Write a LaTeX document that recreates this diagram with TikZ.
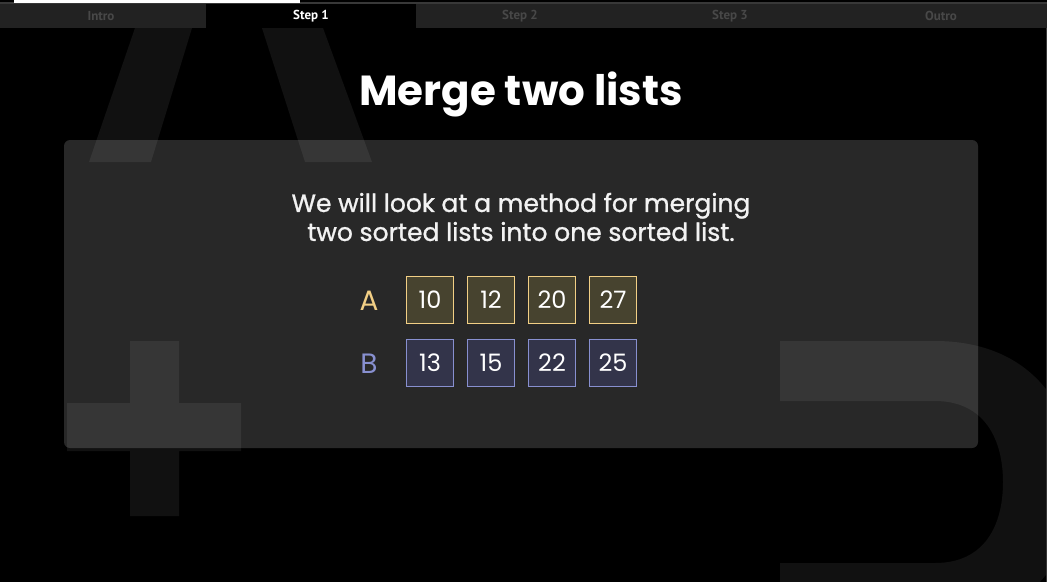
\documentclass[tikz,border=0pt]{standalone}
\usepackage{fontspec}
\setmainfont{Poppins}
\newfontfamily\medfont[FakeBold=1]{Poppins}
\newfontfamily\tabfont{PT Sans}
\definecolor{panel}{HTML}{282828}
\definecolor{tabbg}{HTML}{222222}
\definecolor{tabtxt}{HTML}{484848}
\definecolor{ayel}{HTML}{F2CF85}
\definecolor{afill}{HTML}{47432F}
\definecolor{bblue}{HTML}{8890D0}
\definecolor{bfill}{HTML}{33344A}
\tikzset{
  deco/.style={fill=white, fill opacity=0.065},
  tablbl/.style={font=\tabfont\bfseries\fontsize{13}{15}\selectfont, text=tabtxt},
  abox/.style={draw=ayel, fill=afill, line width=1.5pt, minimum width=47pt, minimum height=47pt, inner sep=0pt, text=white, font=\fontsize{24}{28}\selectfont},
  bbox/.style={abox, draw=bblue, fill=bfill},
}
\begin{document}
\begin{tikzpicture}[x=1pt,y=-1pt]
\useasboundingbox (0,0) rectangle (1047,582);
\clip (0,0) rectangle (1047,582);
\fill[black] (0,0) rectangle (1047,582);
% panel
\fill[panel, rounded corners=6pt] (64,140) rectangle (978,448);
% decorative background glyphs
\fill[deco] (135,28) -- (192,28) -- (151,162) -- (89,162) -- cycle;
\fill[deco] (262,28) -- (323,28) -- (372,162) -- (305,162) -- cycle;
\fill[deco] (130,341) rectangle (179,516) (67,403) rectangle (241,451);
\fill[deco] (780,341) -- (935,341) .. controls (1025,341) and (1075,400) .. (1075,482)
  .. controls (1075,565) and (1025,622) .. (935,622) -- (780,622) -- (780,563) -- (935,563)
  .. controls (985,563) and (1003,525) .. (1003,482) .. controls (1003,440) and (985,401) .. (935,401)
  -- (780,401) -- cycle;
% top bar
\fill[tabbg] (0,4) rectangle (1047,28);
\fill[black] (206,4) rectangle (416,28);
\fill[black!78] (0,2) rectangle (1047,4);
\fill[white] (14,0) rectangle (300,2.5);
\fill[black!78] (1046,28) rectangle (1047,582);
\node[tablbl] (t0) at (101,16) {Intro};
\node[tablbl, text=white] (t1) at (311,16) {Step 1};
\node[tablbl] (t2) at (520,16) {Step 2};
\node[tablbl] (t3) at (730,16) {Step 3};
\node[tablbl] (t4) at (941,16) {Outro};
% title
\node[text=white, font=\bfseries\fontsize{42}{48}\selectfont] (title) at (521,94) {Merge two lists};
\node[text=white!95!black, align=center, font=\medfont\fontsize{25}{29}\selectfont] (sub) at (521,217)
  {We will look at a method for merging\\two sorted lists into one sorted list.};
% lists
\node[text=ayel, font=\fontsize{28}{32}\selectfont] (la) at (369,301) {A};
\node[text=bblue, font=\fontsize{28}{32}\selectfont] (lb) at (369,364) {B};
\node[abox] (a1) at (430,300) {10};
\node[abox] (a2) at (491,300) {12};
\node[abox] (a3) at (552,300) {20};
\node[abox] (a4) at (613,300) {27};
\node[bbox] (b1) at (430,363) {13};
\node[bbox] (b2) at (491,363) {15};
\node[bbox] (b3) at (552,363) {22};
\node[bbox] (b4) at (613,363) {25};
\end{tikzpicture}
\end{document}
